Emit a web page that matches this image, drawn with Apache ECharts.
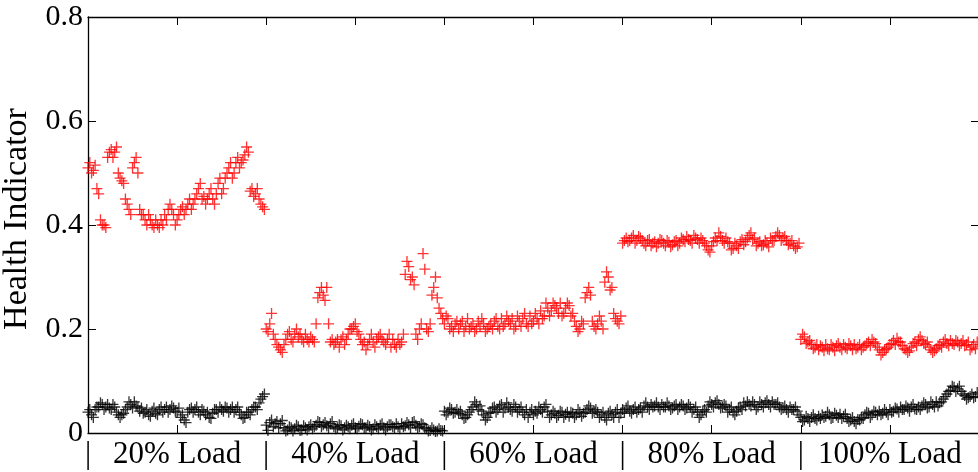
<!DOCTYPE html>
<html>
<head>
<meta charset="utf-8">
<script src="https://cdn.jsdelivr.net/npm/echarts@6/dist/echarts.min.js"></script>
<style>
html,body{margin:0;padding:0;background:#fff;}
#chart{width:978px;height:472px;}
</style>
</head>
<body>
<div id="chart"></div>
<script>
// readings are taken every STEP samples; the "B" readings sit half a step later
const STEP = 4;
const X_MAX = 1000;
const X_TICK = 100;
const loadLabels = ['20% Load', '40% Load', '60% Load', '80% Load', '100% Load'];
const yName = 'Health Indicator';

// red series, samples 0,4,8,...
const redA = [
  // 20% load
  0.51,0.50,0.515,0.46,0.40,0.395,0.54,0.53,0.55,0.49,
  0.48,0.44,0.42,0.52,0.50,0.42,0.41,0.42,0.40,0.41,
  0.395,0.40,0.41,0.44,0.42,0.41,0.43,0.42,0.44,0.43,
  0.45,0.47,0.45,0.44,0.46,0.45,0.46,0.49,0.47,0.50,
  0.52,0.50,0.53,0.52,0.535,0.54,0.47,0.46,0.45,0.435,
  // 40% load
  0.20,0.21,0.19,0.17,0.16,0.17,0.19,0.18,0.19,0.185,
  0.18,0.19,0.175,0.18,0.21,0.27,0.265,0.28,0.175,0.17,
  0.18,0.18,0.17,0.19,0.20,0.21,0.19,0.17,0.16,0.18,
  0.175,0.18,0.19,0.175,0.18,0.165,0.17,0.18,0.175,0.305,
  0.32,0.30,0.19,0.20,0.345,0.20,0.21,0.28,0.26,0.23,
  // 60% load
  0.21,0.22,0.205,0.21,0.20,0.215,0.205,0.20,0.21,0.20,
  0.205,0.21,0.20,0.21,0.215,0.205,0.22,0.21,0.215,0.22,
  0.205,0.215,0.22,0.21,0.225,0.215,0.22,0.235,0.225,0.24,
  0.235,0.245,0.23,0.225,0.24,0.245,0.23,0.205,0.20,0.21,
  0.27,0.265,0.205,0.21,0.215,0.29,0.30,0.28,0.22,0.21,
  // 80% load
  0.365,0.375,0.37,0.38,0.37,0.375,0.365,0.37,0.36,0.368,
  0.365,0.37,0.36,0.367,0.362,0.37,0.365,0.372,0.378,0.37,
  0.38,0.372,0.375,0.365,0.352,0.36,0.375,0.385,0.37,0.375,
  0.365,0.355,0.36,0.368,0.362,0.375,0.385,0.375,0.365,0.36,
  0.37,0.358,0.37,0.378,0.38,0.375,0.37,0.365,0.36,0.358,
  // 100% load
  0.18,0.185,0.175,0.17,0.165,0.16,0.165,0.17,0.16,0.165,
  0.168,0.165,0.17,0.162,0.168,0.17,0.165,0.16,0.168,0.175,
  0.18,0.172,0.16,0.155,0.162,0.17,0.178,0.182,0.175,0.162,
  0.155,0.165,0.175,0.18,0.178,0.17,0.165,0.155,0.162,0.17,
  0.175,0.172,0.178,0.17,0.175,0.172,0.168,0.175,0.165,0.162
];

// red series, samples 2,6,10,...
const redB = [
  // 20% load
  0.52,0.505,0.47,0.41,0.40,0.53,0.545,0.54,0.50,0.485,
  0.45,0.43,0.51,0.53,0.43,0.42,0.40,0.41,0.395,0.40,
  0.41,0.42,0.43,0.43,0.40,0.42,0.435,0.43,0.45,0.44,
  0.46,0.48,0.455,0.45,0.47,0.44,0.48,0.46,0.49,0.51,
  0.49,0.52,0.51,0.525,0.55,0.465,0.455,0.47,0.44,0.43,
  // 40% load
  0.195,0.23,0.18,0.165,0.155,0.18,0.195,0.175,0.20,0.19,
  0.175,0.18,0.185,0.175,0.26,0.28,0.255,0.21,0.18,0.175,
  0.165,0.185,0.18,0.20,0.205,0.195,0.18,0.175,0.17,0.19,
  0.165,0.185,0.18,0.17,0.19,0.18,0.165,0.17,0.19,0.33,
  0.295,0.285,0.18,0.21,0.315,0.195,0.265,0.30,0.24,0.22,
  // 60% load
  0.225,0.20,0.195,0.215,0.21,0.195,0.22,0.205,0.195,0.215,
  0.22,0.195,0.205,0.20,0.22,0.20,0.205,0.225,0.21,0.20,
  0.225,0.205,0.23,0.205,0.21,0.23,0.21,0.22,0.25,0.225,
  0.25,0.24,0.25,0.23,0.25,0.225,0.215,0.195,0.215,0.26,
  0.28,0.215,0.20,0.225,0.20,0.31,0.275,0.23,0.215,0.225,
  // 80% load
  0.37,0.368,0.375,0.365,0.378,0.37,0.36,0.372,0.365,0.358,
  0.372,0.365,0.37,0.358,0.368,0.36,0.375,0.368,0.372,0.365,
  0.375,0.365,0.37,0.36,0.348,0.368,0.37,0.378,0.365,0.368,
  0.352,0.365,0.355,0.372,0.368,0.38,0.372,0.36,0.368,0.362,
  0.365,0.375,0.37,0.385,0.37,0.378,0.362,0.37,0.355,0.365,
  // 100% load
  0.19,0.172,0.178,0.162,0.17,0.168,0.158,0.162,0.17,0.158,
  0.172,0.16,0.165,0.172,0.16,0.162,0.17,0.165,0.172,0.168,
  0.175,0.165,0.15,0.16,0.165,0.172,0.17,0.175,0.168,0.16,
  0.158,0.172,0.168,0.185,0.172,0.175,0.16,0.158,0.168,0.165,
  0.18,0.168,0.172,0.178,0.168,0.178,0.17,0.16,0.17,0.175
];

// black series, samples 0,4,8,...
const blackA = [
  // 20% load
  0.04,0.035,0.045,0.05,0.055,0.05,0.048,0.055,0.04,0.03,
  0.038,0.05,0.055,0.06,0.05,0.048,0.04,0.035,0.042,0.038,
  0.045,0.04,0.05,0.045,0.048,0.04,0.03,0.025,0.04,0.048,
  0.045,0.04,0.045,0.035,0.03,0.038,0.045,0.05,0.042,0.048,
  0.045,0.04,0.05,0.035,0.03,0.04,0.045,0.05,0.058,0.07,
  // 40% load
  0.015,0.02,0.012,0.022,0.018,0.01,0.006,0.01,0.008,0.012,
  0.006,0.01,0.012,0.008,0.015,0.02,0.016,0.014,0.018,0.012,
  0.01,0.014,0.01,0.012,0.015,0.01,0.013,0.016,0.01,0.012,
  0.008,0.012,0.015,0.01,0.012,0.016,0.01,0.012,0.018,0.014,
  0.016,0.02,0.015,0.012,0.016,0.008,0.005,0.006,0.004,0.005,
  // 60% load
  0.042,0.04,0.045,0.04,0.038,0.035,0.03,0.04,0.05,0.055,
  0.052,0.035,0.03,0.04,0.05,0.045,0.055,0.048,0.05,0.042,
  0.05,0.045,0.04,0.045,0.04,0.035,0.038,0.045,0.05,0.042,
  0.035,0.038,0.034,0.04,0.036,0.032,0.038,0.035,0.04,0.038,
  0.045,0.048,0.042,0.04,0.035,0.03,0.038,0.035,0.04,0.03,
  // 80% load
  0.045,0.048,0.042,0.045,0.04,0.048,0.052,0.05,0.055,0.052,
  0.05,0.055,0.05,0.052,0.048,0.055,0.05,0.052,0.048,0.05,
  0.045,0.04,0.035,0.045,0.052,0.055,0.058,0.055,0.05,0.052,
  0.045,0.04,0.042,0.05,0.058,0.06,0.052,0.055,0.05,0.055,
  0.058,0.055,0.06,0.055,0.05,0.048,0.045,0.05,0.045,0.042,
  // 100% load
  0.03,0.025,0.028,0.03,0.028,0.032,0.035,0.032,0.035,0.03,
  0.034,0.036,0.032,0.028,0.025,0.022,0.026,0.03,0.035,0.038,
  0.035,0.04,0.042,0.038,0.04,0.045,0.042,0.046,0.05,0.045,
  0.048,0.05,0.046,0.05,0.052,0.055,0.05,0.055,0.06,0.058,
  0.065,0.075,0.082,0.088,0.085,0.08,0.072,0.068,0.075,0.07
];

// black series, samples 2,6,10,...
const blackB = [
  // 20% load
  0.045,0.03,0.05,0.058,0.045,0.055,0.045,0.05,0.035,0.035,
  0.045,0.06,0.048,0.052,0.042,0.038,0.045,0.032,0.048,0.035,
  0.05,0.045,0.04,0.052,0.042,0.048,0.035,0.02,0.045,0.04,
  0.05,0.035,0.042,0.04,0.028,0.045,0.04,0.045,0.05,0.04,
  0.05,0.045,0.04,0.028,0.04,0.035,0.05,0.045,0.065,0.075,
  // 40% load
  0.005,0.025,0.018,0.01,0.024,0.004,0.012,0.004,0.015,0.005,
  0.014,0.006,0.016,0.012,0.022,0.012,0.02,0.01,0.022,0.008,
  0.016,0.006,0.015,0.008,0.018,0.008,0.018,0.01,0.015,0.006,
  0.016,0.008,0.018,0.006,0.016,0.012,0.018,0.008,0.012,0.02,
  0.01,0.022,0.01,0.018,0.01,0.004,0.01,0.003,0.008,0.004,
  // 60% load
  0.035,0.048,0.038,0.045,0.042,0.028,0.035,0.045,0.06,0.045,
  0.042,0.025,0.038,0.048,0.04,0.052,0.04,0.058,0.045,0.055,
  0.04,0.05,0.035,0.03,0.045,0.042,0.05,0.04,0.055,0.03,
  0.042,0.03,0.042,0.03,0.04,0.04,0.03,0.045,0.032,0.04,
  0.052,0.038,0.045,0.03,0.04,0.025,0.042,0.03,0.045,0.038,
  // 80% load
  0.04,0.052,0.038,0.05,0.045,0.04,0.058,0.045,0.05,0.058,
  0.045,0.05,0.058,0.045,0.052,0.045,0.055,0.045,0.055,0.04,
  0.05,0.03,0.042,0.04,0.06,0.05,0.062,0.048,0.055,0.04,
  0.05,0.035,0.048,0.045,0.052,0.055,0.06,0.045,0.06,0.05,
  0.062,0.05,0.055,0.058,0.045,0.052,0.04,0.045,0.05,0.035,
  // 100% load
  0.022,0.032,0.022,0.035,0.025,0.028,0.03,0.04,0.028,0.038,
  0.03,0.028,0.036,0.022,0.03,0.018,0.025,0.028,0.04,0.03,
  0.042,0.035,0.035,0.045,0.035,0.04,0.048,0.04,0.045,0.052,
  0.042,0.055,0.045,0.045,0.058,0.048,0.06,0.05,0.052,0.06,
  0.07,0.08,0.09,0.08,0.09,0.075,0.065,0.07,0.068,0.078
];

const toPoints = (a, b) => {
  const pts = [];
  a.forEach((v, i) => {
    pts.push([i * STEP, v]);
    if (b[i] !== undefined) pts.push([i * STEP + STEP / 2, b[i]]);
  });
  return pts;
};
const plus = 'path://M0,4.4h10v1.2h-10z M4.4,0h1.2v10h-1.2z';
const FONT = 'Liberation Serif';

function xLabel(v) {
  if (v % 200 === 0) return '|';
  return loadLabels[Math.floor(v / 200)] || '';
}

const chart = echarts.init(document.getElementById('chart'), null, {renderer: 'canvas'});
const axisLine = {show: true, onZero: false, lineStyle: {color: '#000', width: 1.3}};
const tick = {show: true, inside: true, length: 8, lineStyle: {color: '#000', width: 1}};
chart.setOption({
  animation: false,
  backgroundColor: '#fff',
  grid: {left: 88, top: 17, width: 891, height: 416, containLabel: false, outerBoundsMode: 'none'},
  xAxis: [
    {type: 'value', position: 'bottom', min: 0, max: X_MAX, interval: X_TICK,
     axisLine: axisLine, axisTick: tick, splitLine: {show: false},
     axisLabel: {formatter: xLabel, fontFamily: FONT, fontSize: 31, color: '#000', margin: 6, showMaxLabel: false}},
    {type: 'value', position: 'top', min: 0, max: X_MAX, interval: X_TICK,
     axisLine: axisLine, axisTick: tick, splitLine: {show: false}, axisLabel: {show: false}}
  ],
  yAxis: [
    {type: 'value', position: 'left', min: 0, max: 0.8, interval: 0.2,
     name: yName, nameLocation: 'middle', nameGap: 54, nameRotate: 90,
     nameTextStyle: {fontFamily: FONT, fontSize: 34, color: '#000', padding: [0, 0, 0, 12]},
     axisLine: axisLine, axisTick: tick, splitLine: {show: false},
     axisLabel: {fontFamily: FONT, fontSize: 30, color: '#000', margin: 5,
                 formatter: v => (Math.abs(v) < 1e-9 ? '0' : v.toFixed(1))}},
    {type: 'value', position: 'right', min: 0, max: 0.8, interval: 0.2,
     axisLine: axisLine, axisTick: tick, splitLine: {show: false}, axisLabel: {show: false}}
  ],
  series: [
    {type: 'scatter', name: 'black', data: toPoints(blackA, blackB), symbol: plus, symbolSize: 11,
     itemStyle: {color: '#000'}, xAxisIndex: 0, yAxisIndex: 0},
    {type: 'scatter', name: 'red', data: toPoints(redA, redB), symbol: plus, symbolSize: 11,
     itemStyle: {color: '#ff0000'}, xAxisIndex: 0, yAxisIndex: 0}
  ]
});
</script>
</body>
</html>
